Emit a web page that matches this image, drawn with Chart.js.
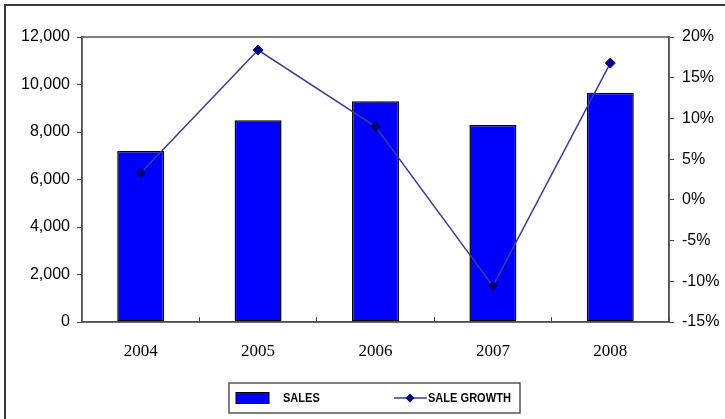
<!DOCTYPE html>
<html>
<head>
<meta charset="utf-8">
<script src="https://cdn.jsdelivr.net/npm/chart.js@4"></script>
<style>
  html, body { margin: 0; padding: 0; background: #fff; }
  #wrap { width: 725px; height: 419px; position: relative; }
</style>
</head>
<body>
<div id="wrap"><canvas id="c" width="725" height="419"></canvas></div>
<script>
// Annual sales and year-on-year growth
const years = ['2004', '2005', '2006', '2007', '2008'];
const sales = [7200, 8500, 9300, 8300, 9650];
const saleGrowth = [3.3, 18.4, 9.0, -10.6, 16.8];
const salesTickLabels = ['0', '2,000', '4,000', '6,000', '8,000', '10,000', '12,000'];
const growthTickLabels = ['-15%', '-10%', '-5%', '0%', '5%', '10%', '15%', '20%'];

const AXIS_COLOR = '#444';
const SANS = "'Liberation Sans', Arial, sans-serif";
const SERIF = "'Liberation Serif', 'Times New Roman', serif";

// White page, outer frame and the border round the plot area
const framePlugin = {
  id: 'frame',
  beforeDraw(chart) {
    const ctx = chart.ctx;
    ctx.save();
    ctx.fillStyle = '#fff';
    ctx.fillRect(0, 0, chart.width, chart.height);
    ctx.strokeStyle = '#3a3a3a';
    ctx.lineWidth = 2;
    ctx.beginPath();
    ctx.moveTo(5, chart.height);
    ctx.lineTo(5, 5);
    ctx.lineTo(chart.width, 5);
    ctx.stroke();
    ctx.restore();
  },
  afterDatasetsDraw(chart) {
    const a = chart.chartArea;
    const ctx = chart.ctx;
    ctx.save();
    ctx.strokeStyle = '#555';
    ctx.lineWidth = 1.5;
    ctx.strokeRect(a.left, a.top, a.right - a.left, a.bottom - a.top);
    ctx.restore();
  }
};

// Boxed legend under the category axis
const boxLegendPlugin = {
  id: 'boxLegend',
  afterDraw(chart) {
    const ctx = chart.ctx;
    const bar = chart.data.datasets.find(d => d.type === 'bar');
    const line = chart.data.datasets.find(d => d.type === 'line');
    const box = { x: 229, y: 383, w: 291, h: 30 };
    const midY = box.y + box.h / 2;
    ctx.save();
    ctx.strokeStyle = '#555';
    ctx.lineWidth = 1.5;
    ctx.strokeRect(box.x, box.y, box.w, box.h);

    // bar swatch
    ctx.fillStyle = bar.backgroundColor;
    ctx.fillRect(box.x + 7, midY - 5.5, 33, 11);
    ctx.strokeStyle = '#000';
    ctx.lineWidth = 1;
    ctx.strokeRect(box.x + 7, midY - 5.5, 33, 11);

    // line swatch with diamond marker
    const lx = box.x + 165;
    ctx.strokeStyle = line.borderColor;
    ctx.lineWidth = 1.5;
    ctx.beginPath();
    ctx.moveTo(lx, midY);
    ctx.lineTo(lx + 33, midY);
    ctx.stroke();
    ctx.fillStyle = line.pointBackgroundColor;
    const r = 4.5, cx = lx + 16;
    ctx.beginPath();
    ctx.moveTo(cx, midY - r);
    ctx.lineTo(cx + r, midY);
    ctx.lineTo(cx, midY + r);
    ctx.lineTo(cx - r, midY);
    ctx.closePath();
    ctx.fill();

    // labels, slightly condensed
    ctx.fillStyle = '#000';
    ctx.font = 'bold 13px ' + SANS;
    ctx.textBaseline = 'middle';
    ctx.textAlign = 'left';
    const drawNarrow = (text, x) => {
      ctx.save();
      ctx.translate(x, midY);
      ctx.scale(0.85, 1);
      ctx.fillText(text, 0, 0);
      ctx.restore();
    };
    drawNarrow(bar.label, box.x + 54);
    drawNarrow(line.label, lx + 34);
    ctx.restore();
  }
};

new Chart(document.getElementById('c'), {
  data: {
    labels: years,
    datasets: [
      {
        type: 'line',
        label: 'SALE GROWTH',
        data: saleGrowth,
        yAxisID: 'yGrowth',
        borderColor: '#3c3c9a',
        borderWidth: 1.5,
        pointStyle: 'rectRot',
        pointRadius: 5,
        pointBackgroundColor: '#000080',
        pointBorderColor: '#000080',
        pointBorderWidth: 1,
        tension: 0,
        order: 0
      },
      {
        type: 'bar',
        label: 'SALES',
        data: sales,
        yAxisID: 'ySales',
        backgroundColor: '#0000ff',
        borderColor: '#000',
        borderWidth: 1.5,
        borderSkipped: false,
        categoryPercentage: 1.0,
        barPercentage: 0.4,
        order: 1
      }
    ]
  },
  options: {
    responsive: false,
    animation: false,
    layout: { padding: { top: 37, left: 0, right: 0, bottom: 0 } },
    plugins: {
      legend: { display: false },
      tooltip: { enabled: false }
    },
    scales: {
      x: {
        type: 'category',
        offset: true,
        grid: {
          offset: true,
          drawOnChartArea: false,
          drawTicks: true,
          tickLength: -5,
          color: AXIS_COLOR
        },
        border: { color: AXIS_COLOR, width: 1.5 },
        ticks: {
          color: '#000',
          padding: 24,
          maxRotation: 0,
          font: { family: SERIF, size: 17 }
        },
        afterFit(scale) { scale.height = 97; }
      },
      ySales: {
        type: 'linear',
        position: 'left',
        min: 0,
        max: 12000,
        ticks: {
          stepSize: 2000,
          color: '#000',
          padding: 7,
          font: { family: SANS, size: 16 },
          callback: (v, i) => salesTickLabels[i]
        },
        grid: { drawOnChartArea: false, tickLength: 5, color: AXIS_COLOR },
        border: { color: AXIS_COLOR, width: 1.5 },
        afterFit(scale) { scale.width = 82; }
      },
      yGrowth: {
        type: 'linear',
        position: 'right',
        min: -15,
        max: 20,
        ticks: {
          stepSize: 5,
          color: '#000',
          padding: 8,
          font: { family: SANS, size: 16 },
          callback: (v, i) => growthTickLabels[i]
        },
        grid: { drawOnChartArea: false, tickLength: 5, color: AXIS_COLOR },
        border: { color: AXIS_COLOR, width: 1.5 },
        afterFit(scale) { scale.width = 56; }
      }
    }
  },
  plugins: [framePlugin, boxLegendPlugin]
});
</script>
</body>
</html>
